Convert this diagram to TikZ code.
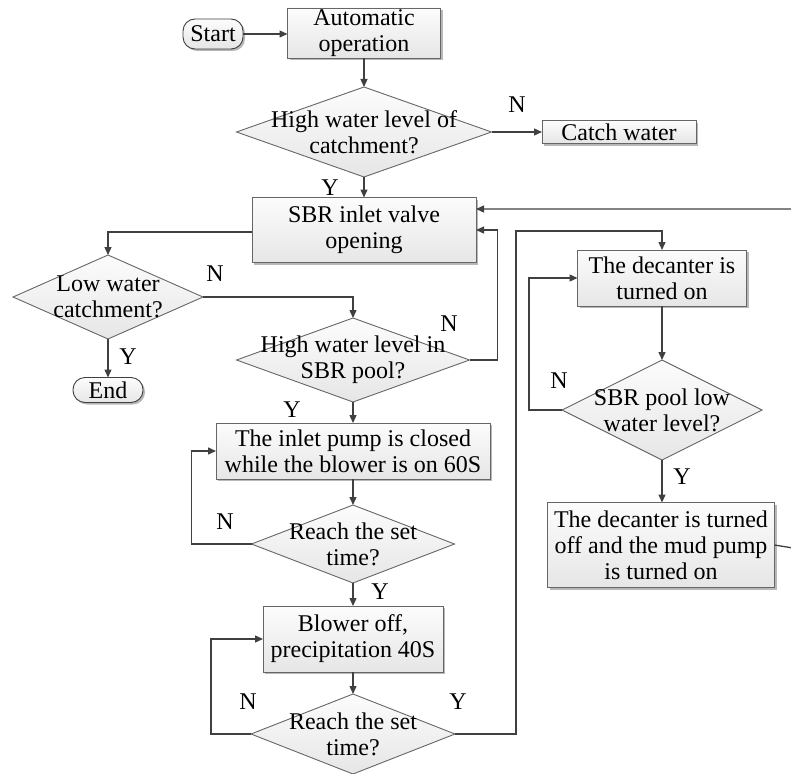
\documentclass[tikz,border=0pt]{standalone}
\usepackage{fontspec}
\setmainfont{Liberation Serif}
\usetikzlibrary{shapes.geometric,arrows.meta,shadows}
\definecolor{boxline}{HTML}{666666}
\definecolor{wire}{HTML}{404040}
\definecolor{filltop}{HTML}{FCFCFC}
\definecolor{fillbot}{HTML}{E6E6E6}
\begin{document}
\begin{tikzpicture}[x=1pt,y=-1pt,
  every node/.style={font=\fontsize{24}{26}\selectfont, inner sep=0pt, outer sep=0pt},
  shade/.style={draw=boxline, line width=0.9pt, top color=filltop, bottom color=fillbot},
  box/.style={shade, align=center,
    drop shadow={shadow xshift=2pt, shadow yshift=-2pt, fill=black!28, opacity=1}},
  term/.style={box, draw=wire, rounded corners=12pt},
  dia/.style={shade, diamond},
  dtext/.style={align=center},
  lbl/.style={},
  arr/.style={draw=wire, line width=1.3pt, -{Triangle[length=8pt,width=7pt]}},
  wireline/.style={draw=wire, line width=1.3pt}
]
\useasboundingbox (0,0) rectangle (791,773);

% process boxes and terminals
\node[term, minimum width=60pt, minimum height=30pt] (start) at (213,34) {Start};
\node[box, minimum width=153pt, minimum height=50pt] (auto) at (364,33) {Automatic\\operation};
\node[box, minimum width=154pt, minimum height=23pt] (catch) at (619,132) {Catch water};
\node[box, minimum width=224pt, minimum height=65pt] (sbr) at (364,230) {SBR inlet valve\\opening};
\node[term, minimum width=70pt, minimum height=25pt] (end) at (108,390) {End};
\node[box, minimum width=274pt, minimum height=56pt] (pump) at (353,451) {The inlet pump is closed\\while the blower is on 60S};
\node[box, minimum width=180pt, minimum height=66pt] (blow) at (353,639) {Blower off,\\precipitation 40S};
\node[box, minimum width=169pt, minimum height=56pt] (dec1) at (662,278) {The decanter is\\turned on};
\node[box, minimum width=227pt, minimum height=85pt] (dec2) at (661,545) {The decanter is turned\\off and the mud pump\\is turned on};

% decisions
\node[dia, minimum width=255pt, minimum height=90pt] (d1) at (364,132) {};
\node[dtext] (d1t) at (d1) {High water level of\\catchment?};
\node[dia, minimum width=190pt, minimum height=84pt] (d2) at (108,297) {};
\node[dtext] (d2t) at (d2) {Low water\\catchment?};
\node[dia, minimum width=233pt, minimum height=84pt] (d3) at (353,360) {};
\node[dtext] (d3t) at (d3) {High water level in\\SBR pool?};
\node[dia, minimum width=203pt, minimum height=78pt] (d4) at (353,544) {};
\node[dtext] (d4t) at (d4) {Reach the set\\time?};
\node[dia, minimum width=204pt, minimum height=80pt] (d5) at (353,734) {};
\node[dtext] (d5t) at (d5) {Reach the set\\time?};
\node[dia, minimum width=200pt, minimum height=100pt] (d6) at (662,410) {};
\node[dtext] (d6t) at (d6) {SBR pool low\\water level?};

% branch labels
\node[lbl] (n1) at (517,105) {N};
\node[lbl] (y1) at (330,188) {Y};
\node[lbl] (n2) at (215,274) {N};
\node[lbl] (n3) at (449,324) {N};
\node[lbl] (y2) at (128,357) {Y};
\node[lbl] (y3) at (292,410) {Y};
\node[lbl] (n4) at (225,522) {N};
\node[lbl] (y4) at (380,592) {Y};
\node[lbl] (n5) at (248,702) {N};
\node[lbl] (y5) at (458,702) {Y};
\node[lbl] (n6) at (559,381) {N};
\node[lbl] (y6) at (682,477) {Y};

% connectors
\coordinate (upY) at (516,231);
\coordinate (farR) at (793,548);

\draw[arr] (start.east) -- (start.east -| auto.west);
\draw[arr] (auto.south) -- (d1.north);
\draw[arr] (d1.east) -- (catch.west);
\draw[arr] (d1.south) -- (sbr.north);
\draw[arr] ([yshift=-2pt]sbr.west) -| (d2.north);
\draw[arr] (d2.east) -| (d3.north);
\draw[arr] (d2.south) -- (end.north);
\draw[arr] (d3.east) -- ++(28,0) |- (sbr.east);
\draw[arr] (d3.south) -- (pump.north);
\draw[arr] (pump.south) -- (d4.north);
\draw[arr] (d4.west) -- ++(-60,0) |- (pump.west);
\draw[arr] (d4.south) -- (blow.north);
\draw[arr] (blow.south) -- (d5.north);
\draw[arr] (d5.west) -- ++(-40,0) |- (blow.west);
\draw[arr] (d5.east) -| (upY) -| (dec1.north);
\draw[arr] (dec1.south) -- (d6.north);
\draw[arr] (d6.west) -- ++(-33,0) |- (dec1.west);
\draw[arr] (d6.south) -- (d6.south |- dec2.north);
\draw[arr] (dec2.east) -- (farR) |- ([yshift=21pt]sbr.east);
\end{tikzpicture}
\end{document}
